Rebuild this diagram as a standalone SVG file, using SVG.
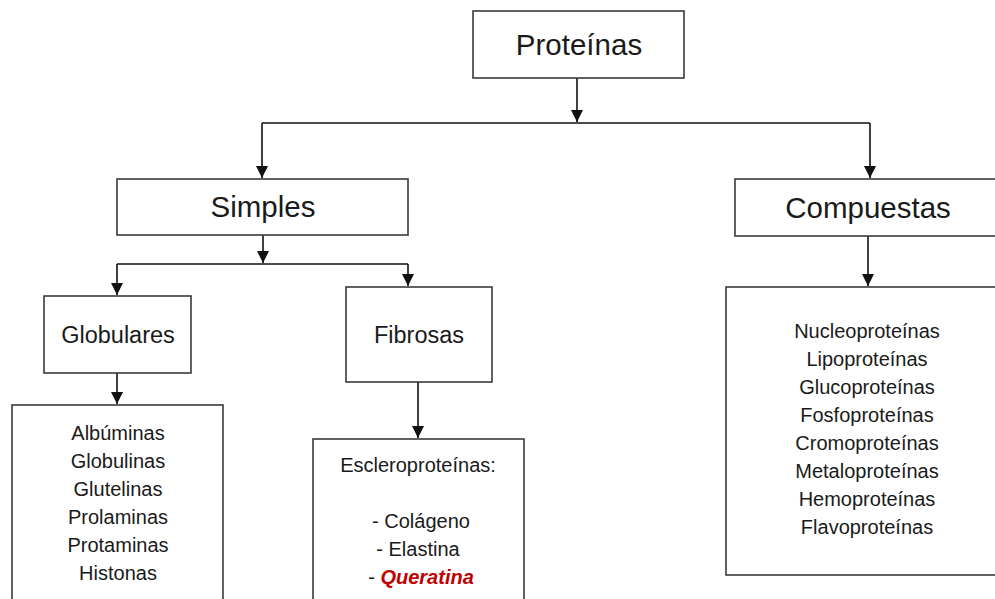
<svg xmlns="http://www.w3.org/2000/svg" width="995" height="599" viewBox="0 0 995 599">
<style>
.box{fill:#fff;stroke:#3a3a3a;stroke-width:1.6}
.ln{fill:none;stroke:#111;stroke-width:1.6}
text{font-family:"Liberation Sans",Arial,sans-serif;fill:#1a1a1a;text-anchor:middle}
.big{font-size:29.5px}
.mid{font-size:23.5px}
.sm{font-size:20px}
.red{fill:#c00000;font-weight:bold;font-style:italic}
</style>
<defs>
<marker id="ah" viewBox="0 0 12 12" refX="12" refY="6" markerWidth="13" markerHeight="12" markerUnits="userSpaceOnUse" orient="auto">
<path d="M0,0 L12,6 L0,12 z" fill="#111"/>
</marker>
</defs>
<rect width="995" height="599" fill="#fff"/>
<g id="connectors">
<line class="ln" x1="577" y1="78" x2="577" y2="122" marker-end="url(#ah)"/>
<line class="ln" x1="262" y1="123" x2="870" y2="123"/>
<line class="ln" x1="262" y1="123" x2="262" y2="178" marker-end="url(#ah)"/>
<line class="ln" x1="870" y1="123" x2="870" y2="178" marker-end="url(#ah)"/>
<line class="ln" x1="263" y1="235" x2="263" y2="263" marker-end="url(#ah)"/>
<line class="ln" x1="117" y1="264" x2="408" y2="264"/>
<line class="ln" x1="117" y1="264" x2="117" y2="295" marker-end="url(#ah)"/>
<line class="ln" x1="408" y1="264" x2="408" y2="286" marker-end="url(#ah)"/>
<line class="ln" x1="117" y1="360" x2="117" y2="404" marker-end="url(#ah)"/>
<line class="ln" x1="418" y1="382" x2="418" y2="438" marker-end="url(#ah)"/>
<line class="ln" x1="868" y1="236" x2="868" y2="286" marker-end="url(#ah)"/>
</g>
<g id="proteinas">
<rect class="box" x="473" y="11" width="211" height="67"/>
<text class="big" x="579" y="55">Proteínas</text>
</g>
<g id="simples">
<rect class="box" x="117" y="179" width="291" height="56"/>
<text class="big" x="263" y="217">Simples</text>
</g>
<g id="compuestas">
<rect class="box" x="735" y="179" width="270" height="57"/>
<text class="big" x="868" y="218">Compuestas</text>
</g>
<g id="globulares">
<rect class="box" x="44" y="296" width="147" height="77"/>
<text class="mid" x="118" y="343">Globulares</text>
</g>
<g id="fibrosas">
<rect class="box" x="346" y="287" width="146" height="95"/>
<text class="mid" x="419" y="343">Fibrosas</text>
</g>
<g id="globulares-list">
<rect class="box" x="12" y="405" width="211" height="210"/>
<text class="sm" x="118" y="440">Albúminas</text>
<text class="sm" x="118" y="468">Globulinas</text>
<text class="sm" x="118" y="496">Glutelinas</text>
<text class="sm" x="118" y="524">Prolaminas</text>
<text class="sm" x="118" y="552">Protaminas</text>
<text class="sm" x="118" y="580">Histonas</text>
</g>
<g id="fibrosas-list">
<rect class="box" x="313" y="439" width="211" height="180"/>
<text class="sm" x="418" y="472">Escleroproteínas:</text>
<text class="sm" x="421" y="528">- Colágeno</text>
<text class="sm" x="418" y="556">- Elastina</text>
<text class="sm" x="421" y="584">- <tspan class="red">Queratina</tspan></text>
</g>
<g id="compuestas-list">
<rect class="box" x="726" y="287" width="280" height="288"/>
<text class="sm" x="867" y="338">Nucleoproteínas</text>
<text class="sm" x="867" y="366">Lipoproteínas</text>
<text class="sm" x="867" y="394">Glucoproteínas</text>
<text class="sm" x="867" y="422">Fosfoproteínas</text>
<text class="sm" x="867" y="450">Cromoproteínas</text>
<text class="sm" x="867" y="478">Metaloproteínas</text>
<text class="sm" x="867" y="506">Hemoproteínas</text>
<text class="sm" x="867" y="534">Flavoproteínas</text>
</g>
</svg>
